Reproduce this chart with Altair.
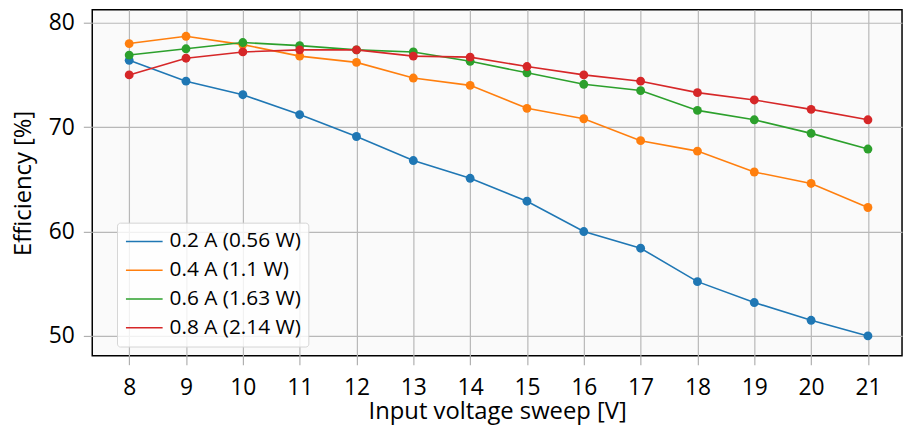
import altair as alt
import pandas as pd

voltage = list(range(8, 22))
series_labels = ["0.2 A (0.56 W)", "0.4 A (1.1 W)", "0.6 A (1.63 W)", "0.8 A (2.14 W)"]
eff_02 = [76.4, 74.4, 73.1, 71.2, 69.1, 66.8, 65.1, 62.9, 60.0, 58.4, 55.2, 53.2, 51.5, 50.0]
eff_04 = [78.0, 78.7, 77.9, 76.8, 76.2, 74.7, 74.0, 71.8, 70.8, 68.7, 67.7, 65.7, 64.6, 62.3]
eff_06 = [76.9, 77.5, 78.1, 77.8, 77.4, 77.2, 76.3, 75.2, 74.1, 73.5, 71.6, 70.7, 69.4, 67.9]
eff_08 = [75.0, 76.6, 77.2, 77.4, 77.4, 76.8, 76.7, 75.8, 75.0, 74.4, 73.3, 72.6, 71.7, 70.7]
colors = ["#1f77b4", "#ff7f0e", "#2ca02c", "#d62728"]
y_ticks = [50, 60, 70, 80]

rows = []
for label, vals in zip(series_labels, [eff_02, eff_04, eff_06, eff_08]):
    for v, e in zip(voltage, vals):
        rows.append({"voltage": v, "eff": e, "series": label})
df = pd.DataFrame(rows)

FONT = "Open Sans"

chart = alt.Chart(df).mark_line(
    strokeWidth=1.6,
    point=alt.OverlayMarkDef(filled=True, size=80, opacity=1),
).encode(
    x=alt.X(
        "voltage:Q",
        scale=alt.Scale(domain=[7.35, 21.6], nice=False, zero=False),
        axis=alt.Axis(
            values=voltage, title="Input voltage sweep [V]", format="d",
            labelFontSize=23, titleFontSize=24, labelPadding=12, tickSize=9,
            titleY=63, titleBaseline="alphabetic",
        ),
    ),
    y=alt.Y(
        "eff:Q",
        scale=alt.Scale(domain=[48.1, 81.23], nice=False, zero=False),
        axis=alt.Axis(
            values=y_ticks, title="Efficiency [%]",
            labelFontSize=23, titleFontSize=24, labelPadding=9, tickSize=9,
            titlePadding=13,
        ),
    ),
    color=alt.Color(
        "series:N",
        scale=alt.Scale(domain=series_labels, range=colors),
        legend=alt.Legend(
            title=None, orient="none", legendX=25, legendY=214.7,
            padding=7, symbolType="stroke", symbolSize=1369, symbolStrokeWidth=1.5,
            clipHeight=24, rowPadding=5, labelFont=FONT, labelFontSize=21,
            labelOffset=6, symbolOffset=1, labelColor="black",
            fillColor="rgba(255,255,255,0.8)", strokeColor="#d6d6d6", cornerRadius=3,
        ),
    ),
).properties(
    width=817,
    height=349,
    autosize=alt.AutoSizeParams(type="none"),
    padding={"left": 85, "top": 0, "right": 3, "bottom": 70},
).configure_view(
    stroke="black", strokeWidth=1.5, fill="#fafafa"
).configure_axis(
    labelFont=FONT, titleFont=FONT, labelColor="black", titleColor="black",
    titleFontWeight="normal", domain=False, grid=True, gridColor="#b8b8b8",
    gridWidth=1.2, tickColor="#b0b0b0", tickWidth=1.2,
)

chart.save("out.html", embed_options={"renderer": "svg", "actions": False})
